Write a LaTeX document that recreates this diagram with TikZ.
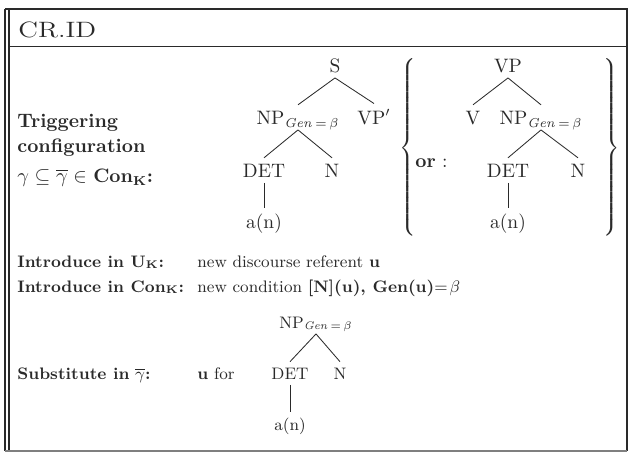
\documentclass[tikz,border=0pt]{standalone}
\usepackage{amsmath,amssymb}
\usetikzlibrary{positioning, calc}
\definecolor{scanink}{HTML}{2A2A2A}
\tikzset{
  lbl/.style={font=\fontsize{9}{11}\selectfont, text=scanink, inner sep=0pt, anchor=base west},
  head/.style={lbl, font=\fontsize{10.5}{13}\selectfont},
  cat/.style={font=\fontsize{10.5}{13}\selectfont, text=scanink, inner sep=3pt, text depth=0pt, anchor=base},
  smallcat/.style={cat, font=\fontsize{9}{11}\selectfont},
  branch/.style={draw=scanink, line width=0.45pt},
  frame/.style={draw=scanink, line width=0.6pt}
}

\begin{document}
\begin{tikzpicture}[x=0.54pt, y=-0.54pt]
  \useasboundingbox (0,0) rectangle (628,452);
  \fill[white] (0,0) rectangle (628,452);

  % Frame
  \draw[frame] (5,9) -- (5,451);
  \draw[frame] (9,9) -- (9,451);
  \draw[frame] (5,9) -- (627,9) -- (627,451);
  \draw[frame] (9,46.5) -- (627,46.5);
  \draw[frame, draw=scanink!60] (5,451) -- (627,451);

  % Title
  \node[lbl, font=\fontsize{12}{14}\selectfont] (title) at (18,37) {\scalebox{1.25}[1]{CR.ID}};

  % Triggering configuration
  \node[head] (trig1) at (17,127) {\textbf{Triggering}};
  \node[head] (trig2) at (17,152) {\textbf{configuration}};
  \node[head] (trig3) at (17,182) {$\gamma\subseteq\overline{\gamma}\in$ \textbf{Con}$_{\mathbf{K}}$\textbf{:}};

  % First tree
  \node[cat] (s1) at (335,72) {S};
  \node[cat] (np1) at (298,124) {NP$_{\mathit{Gen}\,=\,\beta}$};
  \node[cat] (vp1) at (374,124) {VP$'$};
  \node[cat] (det1) at (264,177) {DET};
  \node[cat] (n1) at (332,177) {N};
  \node[cat] (an1) at (264,228) {a(n)};
  \draw[branch] (s1.south) -- (np1.north);
  \draw[branch] (s1.south) -- (vp1.north);
  \draw[branch] (np1.south) -- (det1.north);
  \draw[branch] (np1.south) -- (n1.north);
  \draw[branch] (det1.south) -- (an1.north);

  % Alternative tree in braces
  \node[text=scanink, inner sep=0pt] (lbrace) at (409,150) {$\left\{\vrule height 48pt depth 48pt width 0pt\right.$};
  \node[text=scanink, inner sep=0pt] (rbrace) at (611,150) {$\left.\vrule height 48pt depth 48pt width 0pt\right\}$};
  \node[head] (or) at (415,167) {\textbf{or} :};
  \node[cat] (vp2) at (508,72) {VP};
  \node[cat] (v2) at (473,124) {V};
  \node[cat] (np2) at (541,124) {NP$_{\mathit{Gen}\,=\,\beta}$};
  \node[cat] (det2) at (508,177) {DET};
  \node[cat] (n2) at (578,177) {N};
  \node[cat] (an2) at (508,228) {a(n)};
  \draw[branch] (vp2.south) -- (v2.north);
  \draw[branch] (vp2.south) -- (np2.north);
  \draw[branch] (np2.south) -- (det2.north);
  \draw[branch] (np2.south) -- (n2.north);
  \draw[branch] (det2.south) -- (an2.north);

  % Introduce rows
  \node[lbl] (introU) at (17,267) {\textbf{Introduce in U}$_{\mathbf{K}}$\textbf{:}};
  \node[lbl] (newref) at (197,267) {new discourse referent \textbf{u}};
  \node[lbl] (introC) at (17,292) {\textbf{Introduce in Con}$_{\mathbf{K}}$\textbf{:}};
  \node[lbl] (newcond) at (197,292) {new condition \textbf{[N](u), Gen(u)}$=\!\beta$};

  % Substitute row
  \node[lbl] (subst) at (17,379) {\textbf{Substitute in} $\overline{\gamma}$\textbf{:}};
  \node[lbl] (ufor) at (197,379) {\textbf{u} for};
  \node[smallcat] (np3) at (316,328) {NP$_{\mathit{Gen}\,=\,\beta}$};
  \node[smallcat] (det3) at (290,379) {DET};
  \node[smallcat] (n3) at (340,379) {N};
  \node[smallcat] (an3) at (290,430) {a(n)};
  \draw[branch] (np3.south) -- (det3.north);
  \draw[branch] (np3.south) -- (n3.north);
  \draw[branch] (det3.south) -- (an3.north);
\end{tikzpicture}
\end{document}
